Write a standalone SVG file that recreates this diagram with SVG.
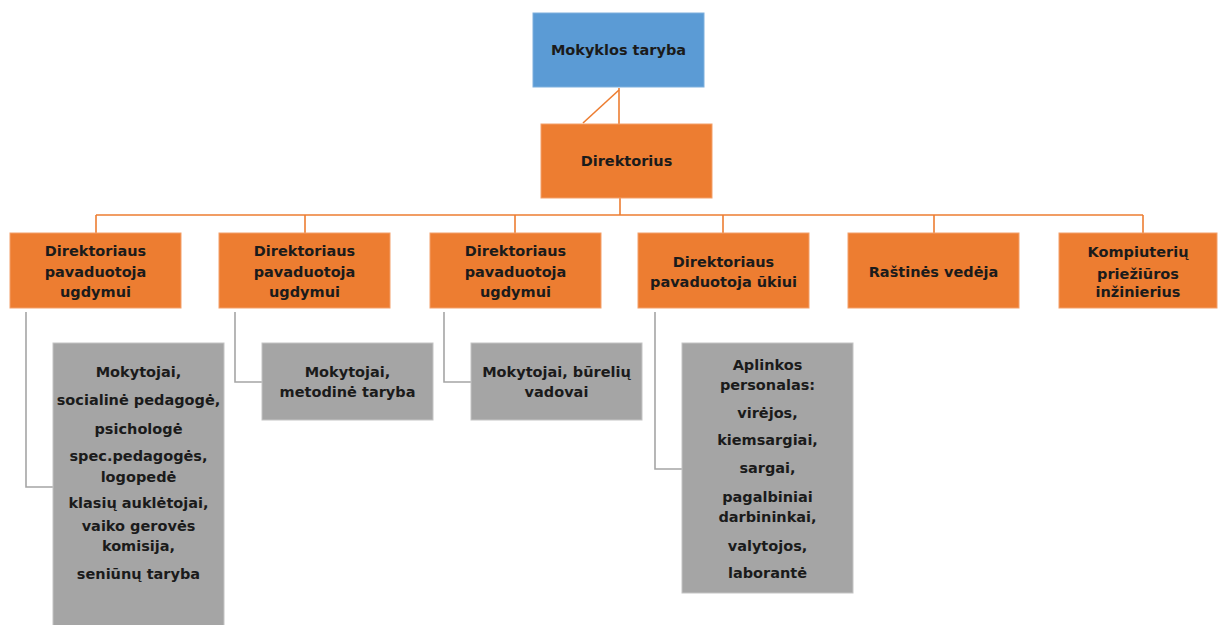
<svg xmlns="http://www.w3.org/2000/svg" width="1218" height="625" viewBox="0 0 1218 625">
<style>
text{font-family:"DejaVu Sans","Liberation Sans",sans-serif;font-weight:bold;font-size:14.5px;fill:#1b1b1b;text-anchor:middle}
.blue{fill:#5B9BD5;stroke:#7fb0dd;stroke-width:1}
.orange{fill:#ED7D31;stroke:#f3a06a;stroke-width:1}
.gray{fill:#A5A5A5;stroke:#c4c4c4;stroke-width:1}
.oc{fill:none;stroke:#ED7D31;stroke-width:1.6}
.gc{fill:none;stroke:#A5A5A5;stroke-width:1.6}
</style>
<rect width="1218" height="625" fill="#ffffff"/>
<g id="connectors">
<line class="oc" x1="619" y1="88" x2="619" y2="124"/>
<line class="oc" x1="619" y1="90" x2="583" y2="123"/>
<polyline class="oc" points="620,198 620,215"/>
<line class="oc" x1="96" y1="215" x2="1143" y2="215"/>
<line class="oc" x1="96" y1="215" x2="96" y2="233"/>
<line class="oc" x1="305" y1="215" x2="305" y2="233"/>
<line class="oc" x1="515" y1="215" x2="515" y2="233"/>
<line class="oc" x1="723" y1="215" x2="723" y2="233"/>
<line class="oc" x1="934" y1="215" x2="934" y2="233"/>
<line class="oc" x1="1143" y1="215" x2="1143" y2="233"/>
<polyline class="gc" points="26,312 26,487 53,487"/>
<polyline class="gc" points="235,312 235,382 262,382"/>
<polyline class="gc" points="444,312 444,382 471,382"/>
<polyline class="gc" points="655,312 655,469 682,469"/>
</g>
<g id="mokyklos-taryba">
<rect class="blue" x="533" y="13" width="171" height="74"/>
<text x="618.5" y="55">Mokyklos taryba</text>
</g>
<g id="direktorius">
<rect class="orange" x="541" y="124" width="171" height="74"/>
<text x="626.5" y="166">Direktorius</text>
</g>
<g id="pavaduotoja-1">
<rect class="orange" x="10" y="233" width="171" height="75"/>
<text x="95.5" y="256">Direktoriaus</text>
<text x="95.5" y="277">pavaduotoja</text>
<text x="95.5" y="297">ugdymui</text>
</g>
<g id="pavaduotoja-2">
<rect class="orange" x="219" y="233" width="171" height="75"/>
<text x="304.5" y="256">Direktoriaus</text>
<text x="304.5" y="277">pavaduotoja</text>
<text x="304.5" y="297">ugdymui</text>
</g>
<g id="pavaduotoja-3">
<rect class="orange" x="430" y="233" width="171" height="75"/>
<text x="515.5" y="256">Direktoriaus</text>
<text x="515.5" y="277">pavaduotoja</text>
<text x="515.5" y="297">ugdymui</text>
</g>
<g id="pavaduotoja-ukiui">
<rect class="orange" x="638" y="233" width="171" height="75"/>
<text x="723.5" y="267">Direktoriaus</text>
<text x="723.5" y="287">pavaduotoja ūkiui</text>
</g>
<g id="rastines-vedeja">
<rect class="orange" x="848" y="233" width="171" height="75"/>
<text x="933.5" y="277">Raštinės vedėja</text>
</g>
<g id="kompiuteriu-inzinierius">
<rect class="orange" x="1059" y="233" width="158" height="75"/>
<text x="1138" y="257">Kompiuterių</text>
<text x="1138" y="279">priežiūros</text>
<text x="1138" y="297">inžinierius</text>
</g>
<g id="mokytojai-1">
<rect class="gray" x="53" y="343" width="171" height="290"/>
<text x="138.5" y="377">Mokytojai,</text>
<text x="138.5" y="405">socialinė pedagogė,</text>
<text x="138.5" y="434">psichologė</text>
<text x="138.5" y="461">spec.pedagogės,</text>
<text x="138.5" y="482">logopedė</text>
<text x="138.5" y="508">klasių auklėtojai,</text>
<text x="138.5" y="531">vaiko gerovės</text>
<text x="138.5" y="551">komisija,</text>
<text x="138.5" y="579">seniūnų taryba</text>
</g>
<g id="mokytojai-2">
<rect class="gray" x="262" y="343" width="171" height="77"/>
<text x="347.5" y="377">Mokytojai,</text>
<text x="347.5" y="397">metodinė taryba</text>
</g>
<g id="mokytojai-3">
<rect class="gray" x="471" y="343" width="171" height="77"/>
<text x="556.5" y="377">Mokytojai, būrelių</text>
<text x="556.5" y="397">vadovai</text>
</g>
<g id="aplinkos-personalas">
<rect class="gray" x="682" y="343" width="171" height="250"/>
<text x="767.5" y="370">Aplinkos</text>
<text x="767.5" y="390">personalas:</text>
<text x="767.5" y="418">virėjos,</text>
<text x="767.5" y="445">kiemsargiai,</text>
<text x="767.5" y="473">sargai,</text>
<text x="767.5" y="502">pagalbiniai</text>
<text x="767.5" y="522">darbininkai,</text>
<text x="767.5" y="551">valytojos,</text>
<text x="767.5" y="578">laborantė</text>
</g>
</svg>
